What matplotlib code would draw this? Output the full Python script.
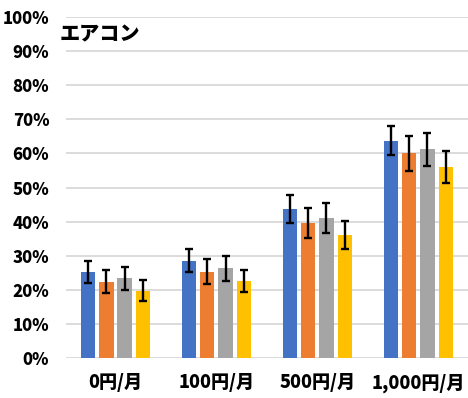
import matplotlib
matplotlib.use("Agg")
import matplotlib.pyplot as plt
import numpy as np

plt.rcParams['font.family'] = ['Noto Sans CJK JP', 'DejaVu Sans']

categories = ["0円/月", "100円/月", "500円/月", "1,000円/月"]
series_a = [25.3, 28.6, 43.7, 63.8]
series_b = [22.4, 25.3, 39.6, 60.0]
series_c = [23.4, 26.3, 41.1, 61.2]
series_d = [19.8, 22.5, 36.0, 56.1]
err_a = [3.2, 3.5, 4.1, 4.2]
err_b = [3.4, 3.6, 4.5, 5.1]
err_c = [3.4, 3.6, 4.5, 4.8]
err_d = [3.0, 3.2, 4.1, 4.7]
yticks = [0, 10, 20, 30, 40, 50, 60, 70, 80, 90, 100]
title = "エアコン"

colors = ["#4472C4", "#ED7D31", "#A5A5A5", "#FFC000"]
values = [series_a, series_b, series_c, series_d]
errors = [err_a, err_b, err_c, err_d]

fig = plt.figure(figsize=(4.68, 3.98), dpi=100)
ax = fig.add_axes([0.141, 0.1005, 0.865, 0.8565])

x = np.arange(len(categories))
pitch = 0.181
width = 0.143
for i, (vals, errs, col) in enumerate(zip(values, errors, colors)):
    pos = x + (i - 1.5) * pitch
    ax.bar(pos, vals, width=width, color=col, zorder=2)
    ax.errorbar(pos, vals, yerr=errs, fmt='none', ecolor='black',
                elinewidth=1.7, capsize=3, capthick=1.7, zorder=3)

ax.set_xlim(-0.49, 3.52)
ax.set_ylim(0, 100)
ax.set_yticks(yticks)
ax.set_yticklabels([f"{v}%" for v in yticks], fontsize=12, fontweight='heavy')
ax.set_xticks(x)
ax.set_xticklabels(categories, fontsize=13, fontweight='heavy')
ax.tick_params(axis='both', length=0)
ax.tick_params(axis='y', pad=12)
ax.tick_params(axis='x', pad=11)
ax.grid(axis='y', color='#D9D9D9', linewidth=1.3, zorder=0)
ax.set_axisbelow(True)
for s in ax.spines.values():
    s.set_visible(False)

fig.text(60 / 468, 1 - 34 / 398, title, fontsize=14.5, fontweight='heavy',
         va='center', ha='left')

fig.savefig("out.png", dpi=100)
